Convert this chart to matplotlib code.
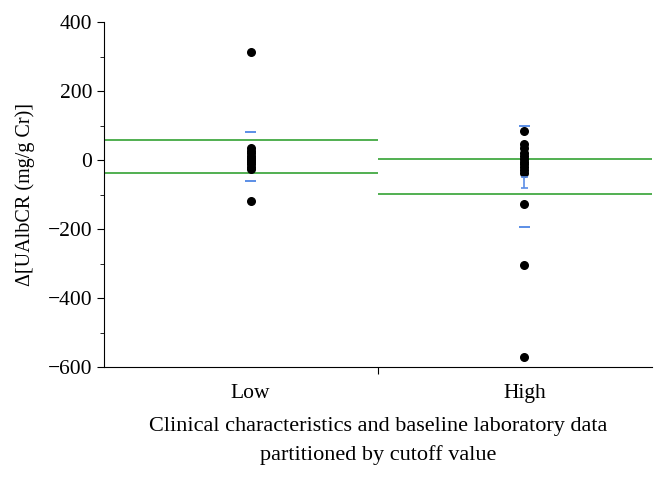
import matplotlib.pyplot as plt
from matplotlib.ticker import MultipleLocator

plt.rcParams['font.family'] = ['Liberation Serif', 'DejaVu Serif']

groups = ['Low', 'High']
low_values = [313, 35, 28, 20, 12, 5, 0, -5, -12, -20, -26, -118]
high_values = [85, 47, 35, 22, 12, 3, -5, -12, -20, -28, -38, -128, -303, -572]

# green reference lines per group (upper, lower)
green_lines = [(58, -38), (3, -99)]
# blue limit dashes per group (upper, lower)
blue_limits = [(82, -61), (99, -195)]
# blue error bar in the high group (top, bottom)
high_err = (-50, -82)

fig = plt.figure(figsize=(6.63, 4.83), dpi=100)
ax = fig.add_axes([0.157, 0.24, 0.826, 0.714])

dot_off = 0.035
blue = '#5b8ee6'
for i, vals in enumerate([low_values, high_values]):
    ax.scatter([i + dot_off] * len(vals), vals, s=30, color='black', zorder=3)
    up, lo = green_lines[i]
    ax.hlines([up, lo], i - 0.5, i + 0.5, color='#34a234', lw=1.2, zorder=2)
    bu, bl = blue_limits[i]
    ax.hlines([bu, bl], i + dot_off - 0.02, i + dot_off + 0.02,
              color=blue, lw=1.4, zorder=4)

ax.vlines(1 + dot_off, high_err[1], high_err[0], color=blue, lw=1.2, zorder=4)
ax.hlines(high_err, 1 + dot_off - 0.012, 1 + dot_off + 0.012,
          color=blue, lw=1.2, zorder=4)

ax.set_xlim(-0.5, 1.5)
ax.set_ylim(-600, 400)
ax.yaxis.set_minor_locator(MultipleLocator(100))
ax.set_yticks([400, 200, 0, -200, -400, -600])
ax.set_yticklabels(['400', '200', '0', '\u2212200', '\u2212400', '\u2212600'])

ax.set_xticks([0.5])
ax.set_xticklabels([''])
ax.set_xticks([i + dot_off for i in range(len(groups))], minor=True)
ax.set_xticklabels(groups, minor=True)
ax.tick_params(axis='x', which='minor', length=0, labelsize=15.5, pad=12)
ax.tick_params(axis='x', which='major', length=5)
ax.tick_params(axis='y', which='major', labelsize=15.5, length=5)
ax.tick_params(axis='y', which='minor', length=3)

ax.spines['top'].set_visible(False)
ax.spines['right'].set_visible(False)

ax.set_ylabel('\u0394[UAlbCR (mg/g Cr)]', fontsize=14.5, labelpad=9)
ax.set_xlabel('Clinical characteristics and baseline laboratory data\npartitioned by cutoff value',
              fontsize=16, linespacing=1.65, labelpad=10)

fig.savefig('out.png', dpi=100)
